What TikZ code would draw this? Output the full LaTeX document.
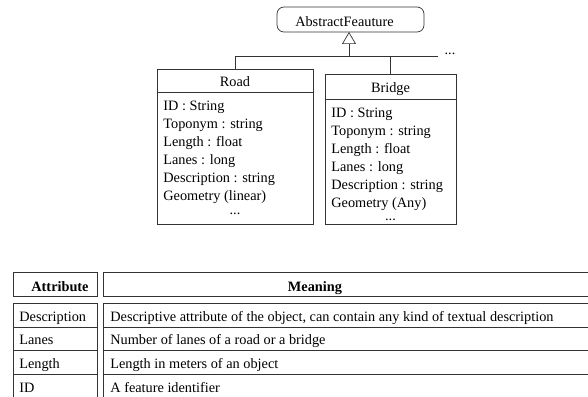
\documentclass[tikz,border=0pt]{standalone}
\usepackage{fontspec}
\setmainfont{Liberation Serif}
\usetikzlibrary{arrows.meta}
\begin{document}
\begin{tikzpicture}[x=1pt,y=-1pt,line width=0.7pt,
  fnt/.style={font=\fontsize{14.3}{17}\selectfont},
  txt/.style={fnt,inner sep=0pt,anchor=base west},
  ctxt/.style={fnt,inner sep=0pt,anchor=base},
  btxt/.style={ctxt,font=\fontsize{14.3}{17}\selectfont\bfseries},
  box/.style={draw=black!80,inner sep=0pt,outer sep=0pt},
  conn/.style={draw=black!80}]
\useasboundingbox (0,0) rectangle (588,396);
\clip (0,0) rectangle (588,396);
% abstract class
\node[box,rounded corners=7pt,minimum width=147pt,minimum height=25pt] (abs) at (350.5,19.5) {};
\node[ctxt] (abstxt) at (344.5,27) {AbstractFeauture};
% Road
\node[box,minimum width=156pt,minimum height=23pt] (roadhead) at (235,80.5) {};
\node[box,minimum width=156pt,minimum height=132pt] (roadbody) at (235,158) {};
\node[ctxt] (roadname) at (235,86) {Road};
\node[txt] (r1) at (163,110) {ID : String};
\node[txt] (r2) at (163,128) {Toponym : string};
\node[txt] (r3) at (163,146) {Length : float};
\node[txt] (r4) at (163,164) {Lanes : long};
\node[txt] (r5) at (163,182) {Description : string};
\node[txt] (r6) at (163,200) {Geometry (linear)};
\node[ctxt] (r7) at (235,214) {...};
% Bridge
\node[box,minimum width=131pt,minimum height=25pt] (bridgehead) at (390.5,86.5) {};
\node[box,minimum width=131pt,minimum height=125pt] (bridgebody) at (390.5,161.5) {};
\node[ctxt] (bridgename) at (390.5,92) {Bridge};
\node[txt] (b1) at (331,117) {ID : String};
\node[txt] (b2) at (331,135) {Toponym : string};
\node[txt] (b3) at (331,153) {Length : float};
\node[txt] (b4) at (331,171) {Lanes : long};
\node[txt] (b5) at (331,189) {Description : string};
\node[txt] (b6) at (331,207) {Geometry (Any)};
\node[ctxt] (b7) at (390.5,220) {...};
% generalisation
\coordinate (j) at (349,56);
\coordinate (top) at (349,32);
\coordinate (hend) at (438,56);
\node[ctxt] (more) at (450,55) {...};
\draw[conn] (roadhead.north) |- (hend);
\draw[conn] (bridgehead.north) -- (bridgehead.north |- j);
\draw[conn,-{Triangle[open,length=12pt,width=14pt]}] (j) -- (top);
% table
\node[box,minimum width=84pt,minimum height=24pt] (ah) at (55,284) {};
\node[box,minimum width=489pt,minimum height=24pt] (mh) at (347.5,284) {};
\node[btxt] (aht) at (60,291.5) {Attribute};
\node[btxt] (mht) at (315,291.5) {Meaning};
\foreach \i/\top/\bot/\a/\m in {1/303/327/Description/{Descriptive attribute of the object, can contain any kind of textual description},
  2/327/350/Lanes/{Number of lanes of a road or a bridge},
  3/350/374/Length/{Length in meters of an object},
  4/374/398/ID/{A feature identifier}}{
  \node[box,minimum width=84pt,minimum height=\bot pt-\top pt] (a\i) at (55,{(\top+\bot)/2}) {};
  \node[box,minimum width=489pt,minimum height=\bot pt-\top pt] (m\i) at (347.5,{(\top+\bot)/2}) {};
  \node[txt] (at\i) at (19,\bot-6) {\a};
  \node[txt] (mt\i) at (110,\bot-6) {\m};
}
\end{tikzpicture}
\end{document}
